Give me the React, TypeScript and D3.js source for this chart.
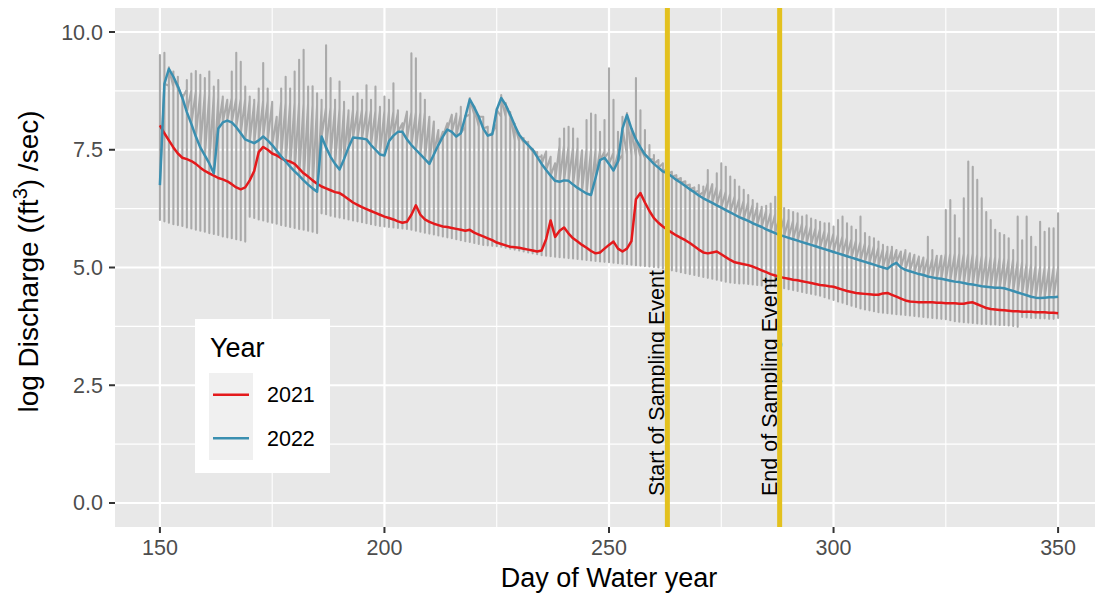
import React from 'react';
import * as d3 from 'd3';

// tick values and labels
const xTicks = [150, 200, 250, 300, 350];
const xMinor = [175, 225, 275, 325];
const yTicks = [0, 2.5, 5, 7.5, 10];
const yMinor = [1.25, 3.75, 6.25, 8.75];

const years = ['2021', '2022'];
const yearColors = ['#E41A1C', '#3A8FB0'];

const samplingDays = [263, 288];
const samplingLabels = ['Start of Sampling Event', 'End of Sampling Event'];

const firstDay = 150;

// all years: daily max of log discharge, day 150 .. 350
const dailyHigh = [
  9.51, 9.56, 9.25, 9.16, 9.05, 8.66, 8.98, 9.12, 9.17, 9.09,
  9.02, 9.16, 8.84, 8.98, 8.63, 8.56, 9.16, 9.56, 9.37, 8.84,
  8.63, 8.56, 8.8, 9.34, 8.8, 8.52, 8.2, 8.8, 9.05, 8.8,
  9.16, 9.41, 9.62, 8.84, 8.85, 8.7, 8.56, 9.72, 9.02, 8.56,
  8.95, 8.52, 8.34, 8.63, 8.7, 8.56, 8.87, 8.56, 8.84, 8.41,
  8.63, 8.56, 8.91, 8.34, 8.06, 8.31, 9.55, 9.44, 8.7, 8.56,
  8.2, 8.1, 7.92, 7.88, 8.06, 8.24, 8.27, 8.41, 8.22, 8.6,
  8.42, 8.22, 8.2, 7.99, 7.85, 8.37, 8.66, 8.49, 8.3, 8.05,
  7.85, 7.75, 7.67, 7.52, 7.45, 7.38, 7.46, 7.35, 7.21, 7.74,
  7.95, 7.99, 7.95, 7.74, 7.49, 8.13, 8.27, 8.24, 7.88, 8.13,
  9.23, 8.56, 7.88, 8.2, 8.28, 7.95, 9.02, 8.34, 7.92, 7.6,
  7.39, 7.28, 7.21, 7.1, 7.03, 6.96, 6.9, 6.83, 6.76, 6.7,
  6.75, 6.72, 7.07, 6.72, 7.0, 7.21, 7.14, 6.93, 6.86, 6.72,
  6.65, 6.54, 6.43, 6.36, 6.29, 6.31, 6.36, 6.5, 6.29, 6.26,
  6.22, 6.18, 6.15, 6.08, 6.11, 6.04, 6.01, 5.97, 5.94, 5.94,
  5.87, 6.01, 6.08, 5.94, 5.87, 5.8, 6.08, 5.73, 5.65, 5.62,
  5.55, 5.48, 5.44, 5.44, 5.37, 5.34, 5.37, 5.3, 5.27, 5.23,
  5.21, 5.65, 5.37, 5.25, 5.25, 6.22, 6.43, 6.11, 5.62, 6.47,
  7.25, 7.14, 6.86, 6.47, 6.18, 6.01, 5.8, 5.73, 5.69, 5.62,
  5.37, 6.08, 5.58, 6.08, 5.65, 5.44, 5.97, 5.76, 5.83, 5.83,
  6.15,
];

// all years: daily min
const dailyLow = [
  6.01, 5.98, 5.95, 5.92, 5.9, 5.88, 5.85, 5.83, 5.8, 5.78,
  5.76, 5.73, 5.71, 5.69, 5.66, 5.64, 5.62, 5.6, 5.58, 5.55,
  6.08, 6.05, 6.02, 6.0, 5.97, 5.95, 5.93, 5.9, 5.88, 5.86,
  5.84, 5.82, 5.8, 5.78, 5.76, 5.73, 6.15, 6.13, 6.1, 6.08,
  6.06, 6.04, 6.02, 6.0, 5.98, 5.96, 5.94, 5.92, 5.9, 5.88,
  5.87, 5.86, 5.85, 5.84, 5.83, 5.82, 5.8, 5.78, 5.76, 5.74,
  5.72, 5.7, 5.68, 5.66, 5.64, 5.62, 5.6, 5.58, 5.56, 5.54,
  5.52, 5.5, 5.48, 5.47, 5.46, 5.45, 5.44, 5.42, 5.4, 5.38,
  5.36, 5.34, 5.32, 5.3, 5.28, 5.26, 5.25, 5.24, 5.23, 5.22,
  5.21, 5.2, 5.19, 5.18, 5.17, 5.16, 5.15, 5.14, 5.13, 5.12,
  5.11, 5.1, 5.09, 5.08, 5.07, 5.06, 5.05, 5.04, 5.03, 5.02,
  5.01, 5.0, 4.98, 4.96, 4.94, 4.92, 4.9, 4.88, 4.86, 4.84,
  4.82, 4.8, 4.78, 4.76, 4.74, 4.72, 4.7, 4.68, 4.67, 4.66,
  4.66, 4.65, 4.64, 4.63, 4.62, 4.61, 4.6, 4.59, 4.58, 4.56,
  4.54, 4.52, 4.5, 4.48, 4.46, 4.44, 4.42, 4.4, 4.37, 4.34,
  4.31, 4.28, 4.25, 4.22, 4.19, 4.16, 4.13, 4.11, 4.09, 4.07,
  4.05, 4.04, 4.03, 4.02, 4.01, 4.0, 3.99, 3.98, 3.97, 3.96,
  3.95, 3.94, 3.93, 3.92, 3.91, 3.9, 3.88, 3.86, 3.85, 3.84,
  3.83, 3.82, 3.81, 3.8, 3.8, 3.79, 3.79, 3.78, 3.78, 3.77,
  3.76, 3.74, 3.95, 3.94, 3.93, 3.93, 3.92, 3.92, 3.91, 3.91,
  3.93,
];

// value of the earliest year on each day (where the grey line enters the day)
const firstRecord = [
  8.9, 8.88, 8.86, 8.84, 8.8, 8.6, 8.78, 8.76, 8.74, 8.72,
  8.7, 8.68, 8.66, 8.62, 8.6, 8.56, 8.6, 8.6, 8.58, 8.58,
  8.56, 8.5, 8.55, 8.55, 8.54, 8.5, 8.2, 8.52, 8.5, 8.5,
  8.5, 8.5, 8.48, 8.48, 8.46, 8.45, 8.4, 8.4, 8.4, 8.4,
  8.38, 8.38, 8.3, 8.36, 8.35, 8.35, 8.34, 8.34, 8.33, 8.33,
  8.33, 8.32, 8.32, 8.3, 8.06, 8.3, 8.3, 8.3, 8.3, 8.3,
  8.2, 8.1, 7.92, 7.88, 8.06, 8.24, 8.25, 8.25, 7.99, 8.25,
  8.25, 7.99, 8.2, 7.99, 7.85, 8.06, 8.2, 8.2, 8.2, 7.7,
  7.68, 7.65, 7.63, 7.46, 7.42, 7.35, 7.46, 7.35, 7.21, 7.6,
  7.6, 7.58, 7.56, 7.55, 7.49, 7.52, 7.5, 7.5, 7.48, 7.46,
  7.45, 7.44, 7.42, 7.4, 7.4, 7.38, 7.36, 7.35, 7.33, 7.32,
  7.3, 7.28, 7.21, 7.1, 7.03, 6.96, 6.9, 6.83, 6.76, 6.7,
  6.63, 6.6, 6.8, 6.77, 6.72, 6.67, 6.62, 6.57, 6.52, 6.47,
  6.43, 6.39, 6.34, 6.3, 6.26, 6.21, 6.17, 6.13, 6.09, 6.06,
  6.03, 6.0, 5.97, 5.94, 5.91, 5.88, 5.85, 5.82, 5.79, 5.76,
  5.73, 5.7, 5.67, 5.64, 5.61, 5.58, 5.55, 5.52, 5.49, 5.46,
  5.43, 5.4, 5.37, 5.4, 5.37, 5.34, 5.35, 5.3, 5.27, 5.23,
  5.21, 5.2, 5.19, 5.25, 5.25, 5.3, 5.3, 5.3, 5.3, 5.3,
  5.3, 5.3, 5.28, 5.25, 5.25, 5.24, 5.23, 5.22, 5.2, 5.2,
  5.18, 5.15, 5.12, 5.1, 5.08, 5.05, 5.02, 5.0, 5.0, 5.0,
  5.0,
];

const q2021 = [
  8.02, 7.85, 7.7, 7.55, 7.42, 7.33, 7.3, 7.26, 7.2, 7.12,
  7.05, 7.0, 6.95, 6.9, 6.87, 6.83, 6.77, 6.7, 6.66, 6.7,
  6.85, 7.05, 7.45, 7.56, 7.5, 7.42, 7.38, 7.32, 7.27, 7.25,
  7.2, 7.1, 7.0, 6.93, 6.85, 6.78, 6.72, 6.68, 6.64, 6.6,
  6.58, 6.52, 6.45, 6.38, 6.33, 6.28, 6.24, 6.2, 6.16, 6.12,
  6.08, 6.05, 6.02, 5.98, 5.95, 5.97, 6.12, 6.32, 6.12, 6.02,
  5.97, 5.93, 5.9, 5.87, 5.86, 5.84, 5.82, 5.8, 5.78, 5.8,
  5.74, 5.7, 5.66, 5.62, 5.58, 5.53, 5.5, 5.47, 5.44, 5.43,
  5.42, 5.4, 5.38, 5.36, 5.34, 5.36, 5.6, 6.0, 5.65, 5.78,
  5.85, 5.72, 5.62, 5.55, 5.48, 5.42, 5.35, 5.3, 5.32, 5.4,
  5.48, 5.55, 5.4, 5.34, 5.4, 5.56, 6.45, 6.58, 6.38, 6.2,
  6.05, 5.95, 5.87, 5.8, 5.74, 5.68, 5.63, 5.58, 5.52, 5.45,
  5.38, 5.32, 5.3, 5.32, 5.34, 5.28, 5.22, 5.16, 5.11, 5.09,
  5.07, 5.05, 5.02, 4.98, 4.94, 4.9, 4.86, 4.83, 4.8, 4.78,
  4.76, 4.74, 4.73, 4.71, 4.69, 4.67, 4.65, 4.63, 4.62, 4.6,
  4.59, 4.56, 4.53, 4.5, 4.48, 4.46, 4.45, 4.44, 4.43, 4.42,
  4.42, 4.45, 4.46, 4.42, 4.38, 4.34, 4.3, 4.28, 4.27, 4.26,
  4.26, 4.26, 4.26, 4.25, 4.25, 4.24, 4.24, 4.24, 4.23, 4.23,
  4.25, 4.26, 4.22, 4.18, 4.14, 4.12, 4.11, 4.1, 4.09, 4.08,
  4.07, 4.07, 4.06, 4.06, 4.06, 4.05, 4.05, 4.05, 4.04, 4.04,
  4.03,
];

const q2022 = [
  6.75, 8.9, 9.22, 9.05, 8.85, 8.6, 8.3, 8.05, 7.78, 7.55,
  7.38, 7.21, 7.0, 7.95, 8.08, 8.12, 8.08, 7.98, 7.85, 7.72,
  7.68, 7.64, 7.7, 7.78, 7.7, 7.6, 7.48, 7.36, 7.25, 7.14,
  7.04, 6.95, 6.85, 6.76, 6.68, 6.61, 7.78, 7.55, 7.35, 7.2,
  7.08, 7.3, 7.55, 7.76, 7.75, 7.74, 7.72, 7.6, 7.5, 7.4,
  7.38, 7.68, 7.8, 7.88, 7.88, 7.72, 7.6, 7.5, 7.4, 7.3,
  7.2, 7.4, 7.6, 7.78, 7.93, 7.88, 7.78, 7.85, 8.2, 8.57,
  8.4, 8.2, 7.95, 7.8, 7.83, 8.35, 8.6, 8.45, 8.25, 8.02,
  7.82, 7.7, 7.6, 7.5, 7.35, 7.2, 7.07, 6.95, 6.84, 6.82,
  6.85, 6.84, 6.76, 6.69, 6.63, 6.57, 6.54, 6.9, 7.28, 7.33,
  7.2, 7.06, 7.25, 7.95, 8.24, 7.95, 7.72, 7.55, 7.4, 7.3,
  7.2, 7.12, 7.04, 7.0, 6.93, 6.86, 6.8, 6.73, 6.66, 6.6,
  6.53, 6.47, 6.42, 6.37, 6.32, 6.27, 6.22, 6.17, 6.12, 6.07,
  6.03, 5.99, 5.94, 5.9, 5.86, 5.81, 5.77, 5.73, 5.69, 5.66,
  5.63, 5.6, 5.57, 5.54, 5.51, 5.48, 5.45, 5.42, 5.39, 5.36,
  5.33, 5.3, 5.27, 5.24, 5.21, 5.18, 5.15, 5.12, 5.09, 5.06,
  5.03, 5.0, 4.97, 5.05, 5.1, 5.0, 4.95, 4.92, 4.89, 4.86,
  4.84, 4.81, 4.79, 4.77, 4.76, 4.74, 4.72, 4.7, 4.69, 4.67,
  4.65, 4.64, 4.62, 4.6, 4.59, 4.58, 4.57, 4.57, 4.56, 4.53,
  4.5, 4.47, 4.44, 4.41, 4.38, 4.36, 4.35, 4.36, 4.37, 4.37,
  4.38,
];

const W = 1095;
const H = 594;
const panel = { left: 115, right: 1103, top: 8, bottom: 527 };
const font = 'Liberation Sans, Arial, Helvetica, sans-serif';

export default function App() {
  const x = d3.scaleLinear().domain([140, 360]).range([panel.left, panel.right]);
  const y = d3.scaleLinear().domain([-0.51, 10.51]).range([panel.bottom, panel.top]);

  const line = d3
    .line<[number, number]>()
    .x((d) => x(d[0]))
    .y((d) => y(d[1]));

  // grey line through every year: each day it runs first year -> min -> max -> 2022,
  // which draws the vertical bar, then a diagonal on to the next day
  const greyPts: [number, number][] = [];
  dailyHigh.forEach((hi, i) => {
    const day = firstDay + i;
    greyPts.push([day, firstRecord[i]], [day, dailyLow[i]], [day, hi], [day, q2022[i]]);
  });

  const series = [q2021, q2022].map((vals) =>
    vals.map((v, i) => [firstDay + i, v] as [number, number])
  );

  const legendX = 195;
  const legendY = 319;

  return (
    <svg
      width={W}
      height={H}
      style={{ position: 'absolute', left: 0, top: 0, background: '#fff' }}
      fontFamily={font}
    >
      <defs>
        <clipPath id="panel-clip">
          <rect
            x={panel.left}
            y={panel.top}
            width={panel.right - panel.left}
            height={panel.bottom - panel.top}
          />
        </clipPath>
      </defs>

      <rect
        x={panel.left}
        y={panel.top}
        width={panel.right - panel.left}
        height={panel.bottom - panel.top}
        fill="#E8E8E8"
      />

      {/* grid */}
      {yMinor.map((t) => (
        <line key={'ym' + t} x1={panel.left} x2={panel.right} y1={y(t)} y2={y(t)} stroke="#fff" strokeWidth={1.1} />
      ))}
      {xMinor.map((t) => (
        <line key={'xm' + t} x1={x(t)} x2={x(t)} y1={panel.top} y2={panel.bottom} stroke="#fff" strokeWidth={1.1} />
      ))}
      {yTicks.map((t) => (
        <line key={'y' + t} x1={panel.left} x2={panel.right} y1={y(t)} y2={y(t)} stroke="#fff" strokeWidth={2.2} />
      ))}
      {xTicks.map((t) => (
        <line key={'x' + t} x1={x(t)} x2={x(t)} y1={panel.top} y2={panel.bottom} stroke="#fff" strokeWidth={2.2} />
      ))}

      <g clipPath="url(#panel-clip)">
        <path d={line(greyPts) || ''} fill="none" stroke="#AAAAAA" strokeWidth={2.1} strokeLinejoin="round" />
        {series.map((pts, i) => (
          <path
            key={years[i]}
            d={line(pts) || ''}
            fill="none"
            stroke={yearColors[i]}
            strokeWidth={2.5}
            strokeLinejoin="round"
          />
        ))}

        {samplingDays.map((d, i) => (
          <text
            key={'lab' + d}
            transform={`translate(${x(d) - 3},${y(0) - 7}) rotate(-90)`}
            fontSize={21.5}
            fill="#000"
          >
            {samplingLabels[i]}
          </text>
        ))}
        {samplingDays.map((d) => (
          <line key={'v' + d} x1={x(d)} x2={x(d)} y1={panel.top} y2={panel.bottom} stroke="#E3C11E" strokeWidth={5} />
        ))}
      </g>

      {/* axes */}
      {xTicks.map((t) => (
        <g key={'xt' + t}>
          <line x1={x(t)} x2={x(t)} y1={panel.bottom} y2={panel.bottom + 6} stroke="#333" strokeWidth={2} />
          <text x={x(t)} y={555} textAnchor="middle" fontSize={21.5} fill="#4D4D4D">
            {t}
          </text>
        </g>
      ))}
      {yTicks.map((t) => (
        <g key={'yt' + t}>
          <line x1={panel.left - 6} x2={panel.left} y1={y(t)} y2={y(t)} stroke="#333" strokeWidth={2} />
          <text x={panel.left - 12} y={y(t) + 7.5} textAnchor="end" fontSize={21.5} fill="#4D4D4D">
            {d3.format('.1f')(t)}
          </text>
        </g>
      ))}

      <text x={(panel.left + panel.right) / 2} y={587} textAnchor="middle" fontSize={27} fill="#000">
        Day of Water year
      </text>
      <text
        transform={`translate(38,${(panel.top + panel.bottom) / 2 - 6}) rotate(-90)`}
        textAnchor="middle"
        fontSize={28}
        fill="#000"
      >
        log Discharge ((ft<tspan dy={-11} fontSize={20}>3</tspan>
        <tspan dy={11}>) /sec)</tspan>
      </text>

      {/* legend */}
      <g>
        <rect x={legendX} y={legendY} width={135} height={154} fill="#fff" />
        <text x={legendX + 15} y={legendY + 38} fontSize={27} fill="#000">
          Year
        </text>
        <rect x={legendX + 14} y={legendY + 54} width={44} height={87} fill="#F0F0F0" />
        {years.map((yr, i) => {
          const cy = legendY + 54 + 21.75 + i * 43.5;
          return (
            <g key={'lg' + yr}>
              <line x1={legendX + 18} x2={legendX + 54} y1={cy} y2={cy} stroke={yearColors[i]} strokeWidth={2.5} />
              <text x={legendX + 72} y={cy + 7.5} fontSize={21.5} fill="#000">
                {yr}
              </text>
            </g>
          );
        })}
      </g>
    </svg>
  );
}
